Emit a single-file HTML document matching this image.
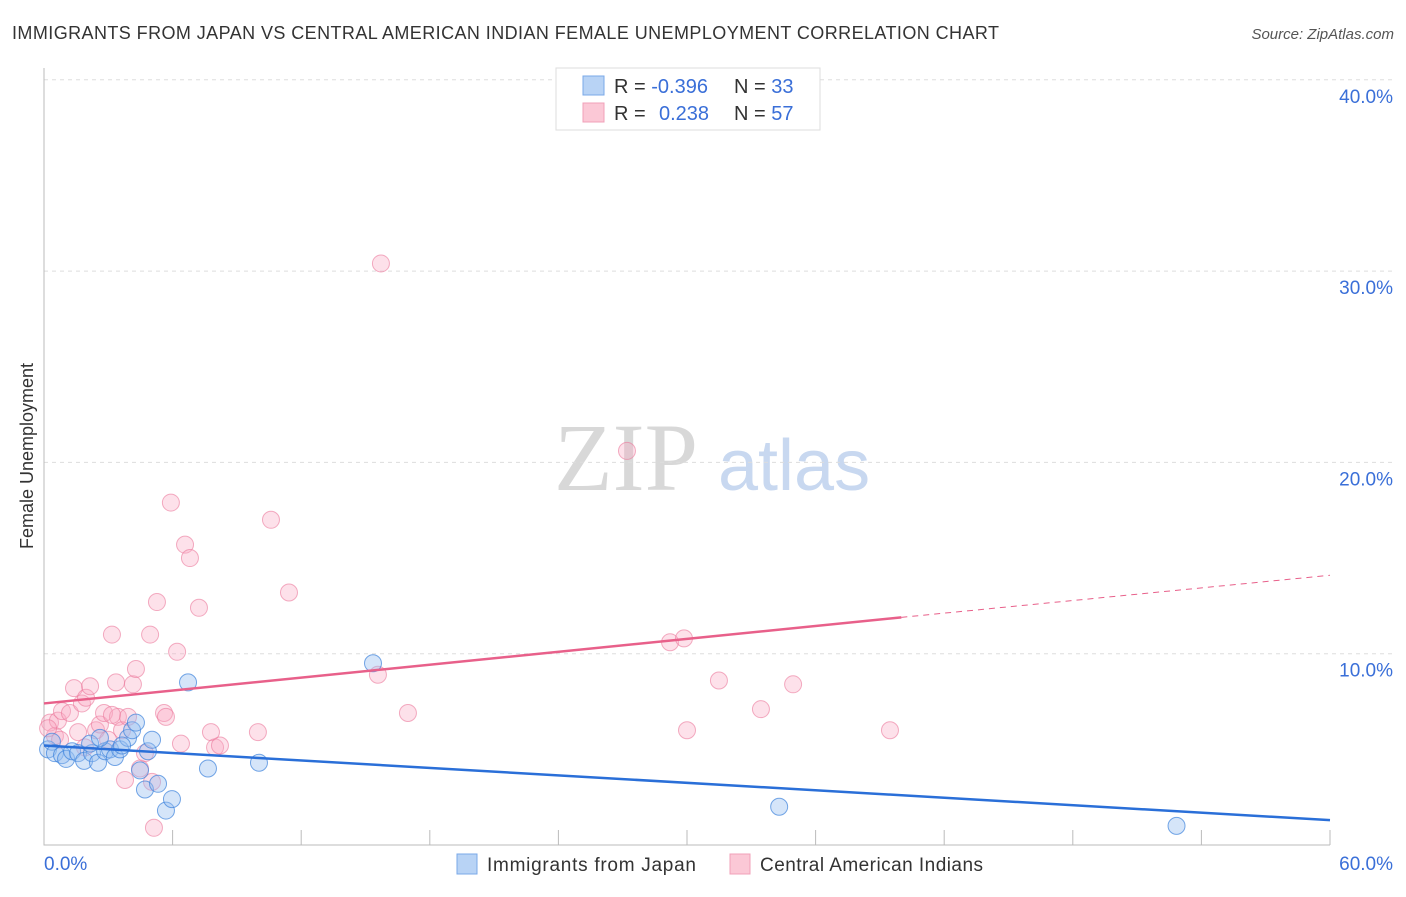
<!DOCTYPE html>
<html><head><meta charset="utf-8"><style>
body{margin:0;background:#fff;font-family:"Liberation Sans",sans-serif;}
</style></head><body>
<svg id="chart" width="1406" height="892" xmlns="http://www.w3.org/2000/svg" font-family="Liberation Sans, sans-serif">
<text x="12" y="39" font-size="18" fill="#333" textLength="987">IMMIGRANTS FROM JAPAN VS CENTRAL AMERICAN INDIAN FEMALE UNEMPLOYMENT CORRELATION CHART</text>
<text x="1394" y="39" font-size="15" fill="#555" font-style="italic" text-anchor="end">Source: ZipAtlas.com</text>
<text transform="translate(33,456) rotate(-90)" font-size="18" fill="#333" text-anchor="middle">Female Unemployment</text>
<text x="554" y="490" font-size="96" fill="#d8d8d8" style="font-family:'Liberation Serif',serif">ZIP</text>
<text x="718" y="490" font-size="72" fill="#c8d8f0">atlas</text>
<g id="grid"></g><g id="marks"></g>
<g>
<rect x="556" y="68" width="264" height="62" fill="#fff" stroke="#ddd"/>
<rect x="583" y="76" width="21" height="19" fill="#b8d3f5" stroke="#7aa8e8"/>
<rect x="583" y="103" width="21" height="19" fill="#fbc8d6" stroke="#f0a0b8"/>
<text x="614" y="93" font-size="20" fill="#333">R = <tspan fill="#3a6fd8">-0.396</tspan><tspan x="734">N = </tspan><tspan fill="#3a6fd8">33</tspan></text>
<text x="614" y="120" font-size="20" fill="#333">R = <tspan x="659" fill="#3a6fd8">0.238</tspan><tspan x="734">N = </tspan><tspan fill="#3a6fd8">57</tspan></text>
</g>
<g>
<rect x="457" y="854" width="20" height="20" fill="#b8d3f5" stroke="#7aa8e8"/>
<text x="487" y="871" font-size="19" fill="#333" textLength="209">Immigrants from Japan</text>
<rect x="730" y="854" width="20" height="20" fill="#fbc8d6" stroke="#f0a0b8"/>
<text x="760" y="871" font-size="19" fill="#333" textLength="223">Central American Indians</text>
</g>
</svg>
<script>
const xTicksLabels=["0.0%","60.0%"];
const yTickValues=[10,20,30,40];
const japanX=[0.19,0.37,0.51,0.84,1.03,1.31,1.59,1.87,2.24,2.52,2.85,3.08,3.31,3.55,3.92,4.11,4.29,4.48,4.71,4.85,5.04,5.32,5.69,5.97,6.72,7.65,10.03,15.35,34.3,52.84,2.15,2.61,3.64];
const japanY=[5.0,5.4,4.8,4.7,4.5,4.9,4.8,4.4,4.8,4.3,4.9,5.0,4.6,5.0,5.6,6.0,6.4,3.9,2.9,4.9,5.5,3.2,1.8,2.4,8.5,4.0,4.3,9.5,2.0,1.0,5.3,5.6,5.2];
const caiX=[0.28,0.51,0.65,0.84,1.21,1.4,1.59,1.77,1.96,2.15,2.43,2.61,2.8,2.99,3.17,3.36,3.45,3.64,3.78,3.92,4.15,4.29,4.48,4.71,4.95,5.04,5.13,5.27,5.6,5.69,5.92,6.21,6.39,6.58,6.81,7.23,7.79,7.98,8.21,9.98,10.59,11.43,15.58,15.72,16.98,27.2,29.21,29.86,30.0,31.49,33.45,34.95,39.47,0.19,0.75,1.91,3.17];
const caiY=[6.4,5.7,6.5,7.0,6.9,8.2,5.9,7.4,7.7,8.3,6.0,6.3,6.9,5.5,11.0,8.5,6.7,6.0,3.4,6.7,8.4,9.2,4.0,4.8,11.0,3.3,0.9,12.7,6.9,6.7,17.9,10.1,5.3,15.7,15.0,12.4,5.9,5.1,5.2,5.9,17.0,13.2,8.9,30.4,6.9,20.6,10.6,10.8,6.0,8.6,7.1,8.4,6.0,6.1,5.5,5.1,6.8];
const japanTrend=[[0,5.2],[60,1.3]];
const caiTrend=[[0,7.4],[40,11.9],[60,14.1]];
const X=v=>44+v/60*1286, Y=v=>845-v*19.13;
const NS="http://www.w3.org/2000/svg";
const grid=document.getElementById('grid'), marks=document.getElementById('marks');
function mk(tag,attrs,parent){const e=document.createElementNS(NS,tag);for(const k in attrs)e.setAttribute(k,attrs[k]);parent.appendChild(e);return e;}
yTickValues.forEach(v=>{
 const l=mk('line',{x1:44,x2:1394,y1:Y(v),y2:Y(v),stroke:'#ddd','stroke-dasharray':'4,4'},grid);
 
 
 const t=mk('text',{x:1393,y:Y(v)+23,'font-size':19,fill:'#3a6fd8','text-anchor':'end'},grid);
 t.textContent=v.toFixed(1)+'%';
 
 
});
const ax=mk('path',{d:'M44,68V845H1330',stroke:'#bbb',fill:'none'},grid);


for(let i=1;i<=10;i++){const x=44+i*128.6;const t=mk('line',{x1:x,x2:x,y1:830,y2:845,stroke:'#bbb'},grid);
 
 }
xTicksLabels.forEach((s,i)=>{const t=mk('text',{x:i?1393:44,y:870,'font-size':19,fill:'#3a6fd8','text-anchor':i?'end':'start'},grid);t.textContent=s;
 
 });
caiX.forEach((v,i)=>{const c=mk('circle',{cx:X(v),cy:Y(caiY[i]),r:8.5,fill:'rgba(248,170,195,0.35)',stroke:'rgba(235,120,155,0.6)'},marks);
 
 });
japanX.forEach((v,i)=>{const c=mk('circle',{cx:X(v),cy:Y(japanY[i]),r:8.5,fill:'rgba(150,190,240,0.4)',stroke:'rgba(60,130,220,0.7)'},marks);
 
 });
let l=mk('line',{x1:X(japanTrend[0][0]),y1:Y(japanTrend[0][1]),x2:X(japanTrend[1][0]),y2:Y(japanTrend[1][1]),stroke:'#2a6fd8','stroke-width':2.5},marks);


l=mk('line',{x1:X(caiTrend[0][0]),y1:Y(caiTrend[0][1]),x2:X(caiTrend[1][0]),y2:Y(caiTrend[1][1]),stroke:'#e8608a','stroke-width':2.5},marks);


l=mk('line',{x1:X(caiTrend[1][0]),y1:Y(caiTrend[1][1]),x2:X(caiTrend[2][0]),y2:Y(caiTrend[2][1]),stroke:'#e8608a','stroke-width':1,'stroke-dasharray':'6,5'},marks);


</script>
</body></html>
